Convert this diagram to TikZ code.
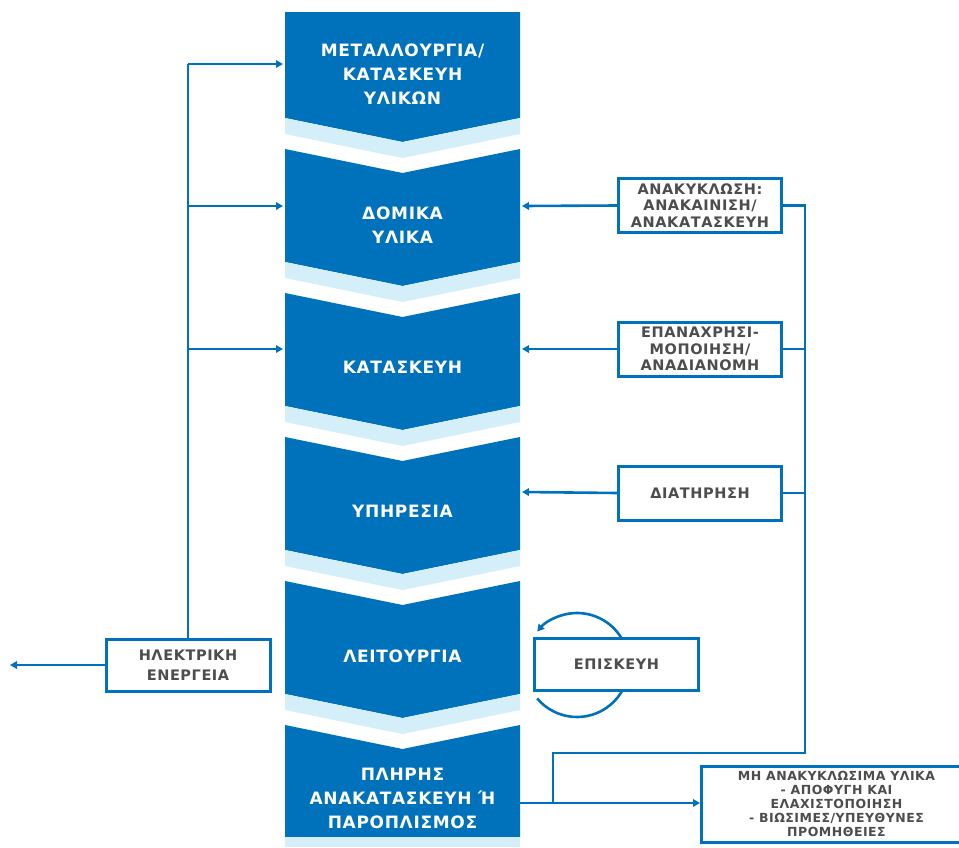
\documentclass[tikz,border=0pt]{standalone}
\usepackage{fontspec}
\setmainfont{DejaVu Sans}
\newfontfamily\lsfont{DejaVu Sans Bold}[LetterSpace=4]
\usetikzlibrary{arrows.meta,calc}
\definecolor{dblue}{RGB}{0,114,188}
\definecolor{lblue}{RGB}{212,238,250}
\definecolor{tgray}{RGB}{77,77,79}
\tikzset{
  blk/.style={fill=dblue},
  band/.style={fill=lblue},
  lbl/.style={text=white, align=center, font=\lsfont\fontsize{17}{24}\selectfont},
  sbox/.style={draw=dblue, line width=3pt, fill=white, text=tgray, align=center,
    minimum width=163pt, minimum height=54pt, inner sep=0pt,
    font=\lsfont\fontsize{14.5}{16.5}\selectfont},
  link/.style={draw=dblue, line width=2.6pt},
  arr/.style={link, -{Triangle[length=7pt,width=7.5pt]}}
}
% one chevron stage: top y, bottom y (dark part), with light band below
\newcommand{\stage}[3]{% #1 top, #2 bottom, #3 notched top (1) or flat (0)
  \ifnum#3=1
    \fill[blk] (285,#1) -- (402.5,#1+24) -- (520,#1) -- (520,#2) -- (402.5,#2+24) -- (285,#2) -- cycle;
  \else
    \fill[blk] (285,#1) -- (520,#1) -- (520,#2) -- (402.5,#2+24) -- (285,#2) -- cycle;
  \fi
  \fill[band] (285,#2) -- (402.5,#2+24) -- (520,#2) -- (520,#2+16) -- (402.5,#2+40) -- (285,#2+16) -- cycle;
}
\begin{document}
\begin{tikzpicture}[x=1pt,y=-1pt]
\clip (0,0) rectangle (959,847);
\fill[white] (0,0) rectangle (959,847);

% stages
\stage{12}{118}{0}
\stage{149}{262}{1}
\stage{293}{406}{1}
\stage{437}{550}{1}
\stage{581}{694}{1}
\fill[blk] (285,725) -- (402.5,749) -- (520,725) -- (520,837) -- (285,837) -- cycle;
\fill[band] (285,837) rectangle (520,847);

\node[lbl] (b1) at (402.5,74) {ΜΕΤΑΛΛΟΥΡΓΙΑ/\\ΚΑΤΑΣΚΕΥΗ\\ΥΛΙΚΩΝ};
\node[lbl] (b2) at (402.5,225) {ΔΟΜΙΚΑ\\ΥΛΙΚΑ};
\node[lbl] (b3) at (402.5,367) {ΚΑΤΑΣΚΕΥΗ};
\node[lbl] (b4) at (402.5,511) {ΥΠΗΡΕΣΙΑ};
\node[lbl] (b5) at (402.5,656) {ΛΕΙΤΟΥΡΓΙΑ};
\node[lbl] (b6) at (402.5,798) {ΠΛΗΡΗΣ\\ΑΝΑΚΑΤΑΣΚΕΥΗ Ή\\ΠΑΡΟΠΛΙΣΜΟΣ};

% edge anchors of the stages
\coordinate (l1) at (283,64);
\coordinate (l2) at (283,206);
\coordinate (l3) at (283,349);
\coordinate (r2) at (522,206);
\coordinate (r3) at (522,349);
\coordinate (r4) at (522,492);
\coordinate (r6) at (520,803);

% side boxes
\node[sbox] (rA) at (700,205.5) {ΑΝΑΚΥΚΛΩΣΗ:\\ΑΝΑΚΑΙΝΙΣΗ/\\ΑΝΑΚΑΤΑΣΚΕΥΗ};
\node[sbox] (rB) at (700,349) {ΕΠΑΝΑΧΡΗΣΙ-\\ΜΟΠΟΙΗΣΗ/\\ΑΝΑΔΙΑΝΟΜΗ};
\node[sbox] (rC) at (700,493) {ΔΙΑΤΗΡΗΣΗ};
\node[sbox, minimum width=164pt, minimum height=52pt,
  font=\lsfont\fontsize{14.5}{20}\selectfont] (el) at (188,665) {ΗΛΕΚΤΡΙΚΗ\\ΕΝΕΡΓΕΙΑ};
\node[sbox, minimum width=270pt, minimum height=76pt,
  font=\lsfont\fontsize{12.5}{14}\selectfont] (rD) at (836.5,804)
  {ΜΗ ΑΝΑΚΥΚΛΩΣΙΜΑ ΥΛΙΚΑ\\- ΑΠΟΦΥΓΗ ΚΑΙ\\ΕΛΑΧΙΣΤΟΠΟΙΗΣΗ\\- ΒΙΩΣΙΜΕΣ/ΥΠΕΥΘΥΝΕΣ\\ΠΡΟΜΗΘΕΙΕΣ};

% repair loop
\coordinate (loop) at (577,665);
\draw[arr] ($(loop)+(140:52)$) arc[start angle=140, end angle=-140, radius=52];
\node[sbox, minimum width=164pt, minimum height=52pt] (rep) at (616.5,664.5) {ΕΠΙΣΚΕΥΗ};

% energy feed on the left
\coordinate (lt) at (el.north |- l1);
\draw[link] (el.north) -- (lt);
\draw[arr] (lt) -- (l1);
\draw[arr] (el.north |- l2) -- (l2);
\draw[arr] (el.north |- l3) -- (l3);
\coordinate (lout) at (10,665);
\draw[arr] (el.west) -- (lout);

% return loops on the right
\coordinate (rc) at (805,753);
\coordinate (jn) at (553,803);
\draw[link] (rA.east) -| (rc) -| (jn);
\draw[link] (rB.east) -- (rB.east -| rc);
\draw[link] (rC.east) -- (rC.east -| rc);
\draw[arr] (rA.west) -- (r2);
\draw[arr] (rB.west) -- (r3);
\draw[arr] (rC.west) -- (r4);
\draw[arr] (r6) -- (rD.west |- r6);
\end{tikzpicture}
\end{document}
